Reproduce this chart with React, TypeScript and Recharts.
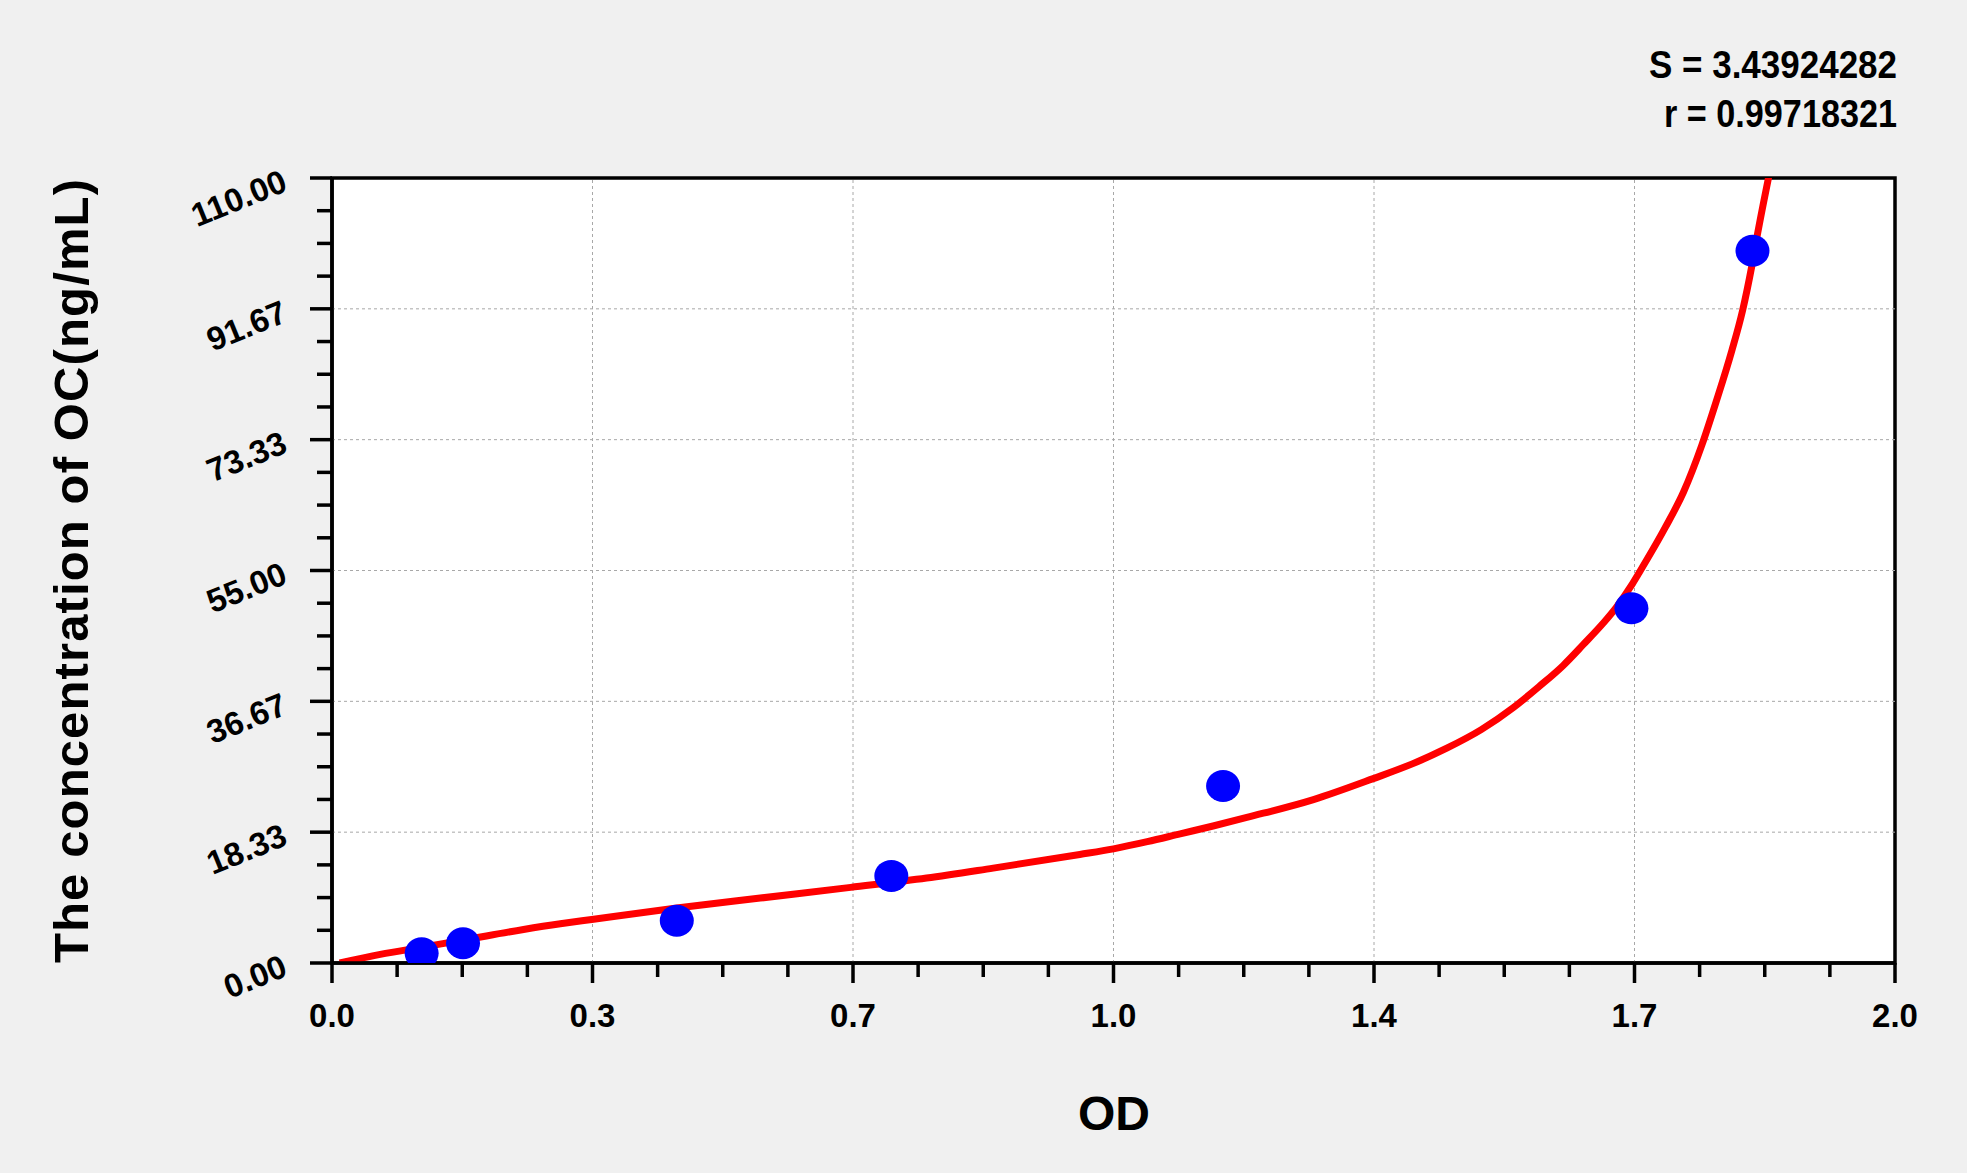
import React from 'react';
import { ComposedChart, Line, Scatter, XAxis, YAxis, ReferenceLine, ReferenceArea } from 'recharts';

// ---- data ----
const CURVE_OD = [0.01, 0.063, 0.117, 0.171, 0.25, 0.298, 0.339, 0.45, 0.559, 0.677, 0.776, 0.863, 0.976, 1.02, 1.064, 1.107, 1.15, 1.194, 1.281, 1.358, 1.41, 1.455, 1.5, 1.542, 1.575, 1.607, 1.633, 1.659, 1.676, 1.696, 1.705, 1.74, 1.764, 1.788, 1.807, 1.827, 1.841, 1.853, 1.861, 1.876];
const CURVE_CONC = [0, 1.2, 2.2, 3.2, 4.7, 5.5, 6.1, 7.7, 9.1, 10.6, 11.9, 13.3, 15.2, 16.0, 17.0, 18.1, 19.2, 20.4, 22.9, 25.8, 27.9, 30.1, 32.7, 35.8, 38.7, 41.7, 44.6, 47.6, 49.8, 52.9, 54.5, 61.0, 66.0, 72.6, 78.8, 85.8, 91.4, 97.6, 102.4, 110.6];
const POINT_OD = [0.117, 0.171, 0.45, 0.73, 1.163, 1.696, 1.854];
const POINT_CONC = [1.36, 2.76, 5.93, 12.2, 24.8, 49.7, 99.8];

const X_MAJOR_TICKS = [0, 0.34, 0.68, 1.02, 1.36, 1.7, 2.04];
const X_TICK_LABELS = ['0.0', '0.3', '0.7', '1.0', '1.4', '1.7', '2.0'];
const Y_MAJOR_TICKS = [0, 18.3333, 36.6667, 55, 73.3333, 91.6667, 110];
const Y_TICK_LABELS = ['0.00', '18.33', '36.67', '55.00', '73.33', '91.67', '110.00'];
const STATS = ['S = 3.43924282', 'r = 0.99718321'];
const X_TITLE = 'OD';
const Y_TITLE = 'The concentration of OC(ng/mL)';

const curveData = CURVE_OD.map((od, i) => ({ od, conc: CURVE_CONC[i] }));
const pointData = POINT_OD.map((od, i) => ({ od, conc: POINT_CONC[i] }));

function withMinor(major: number[], parts: number) {
  const out: number[] = [];
  for (let i = 0; i < major.length - 1; i++) {
    for (let k = 0; k < parts; k++) out.push(major[i] + ((major[i + 1] - major[i]) * k) / parts);
  }
  out.push(major[major.length - 1]);
  return out;
}
const X_TICKS = withMinor(X_MAJOR_TICKS, 4);
const Y_TICKS = withMinor(Y_MAJOR_TICKS, 4);

// ---- layout ----
const W = 1967;
const H = 1173;
const PLOT_LEFT = 332;
const PLOT_TOP = 178;
const PLOT_RIGHT = 1895;
const PLOT_BOTTOM = 963;
const YAXIS_W = 100;
const XAXIS_H = 60;
const FONT = 'Arial, "Liberation Sans", Helvetica, sans-serif';
const AXIS_W = 3.5;

function majorIndex(v: number, majors: number[]) {
  return majors.findIndex((m) => Math.abs(m - v) < 1e-3);
}

const XTick = (props: any) => {
  const { x, payload } = props;
  const mi = majorIndex(payload.value, X_MAJOR_TICKS);
  const major = mi >= 0;
  return (
    <g>
      <line x1={x} x2={x} y1={PLOT_BOTTOM} y2={PLOT_BOTTOM + (major ? 20 : 14)} stroke="#000" strokeWidth={AXIS_W} />
      {major && (
        <text x={x} y={1027} textAnchor="middle" fontFamily={FONT} fontWeight="bold" fontSize={33} fill="#000">
          {X_TICK_LABELS[mi]}
        </text>
      )}
    </g>
  );
};

const YTick = (props: any) => {
  const { y, payload } = props;
  const mi = majorIndex(payload.value, Y_MAJOR_TICKS);
  const major = mi >= 0;
  const ax = 289;
  const ay = y + 12;
  return (
    <g>
      <line x1={PLOT_LEFT - (major ? 22 : 15)} x2={PLOT_LEFT} y1={y} y2={y} stroke="#000" strokeWidth={AXIS_W} />
      {major && (
        <text
          x={ax}
          y={ay}
          textAnchor="end"
          transform={`rotate(-22, ${ax}, ${ay})`}
          fontFamily={FONT}
          fontWeight="bold"
          fontSize={33}
          fill="#000"
        >
          {Y_TICK_LABELS[mi]}
        </text>
      )}
    </g>
  );
};

const Dot = (props: any) => {
  const { cx, cy } = props;
  if (cx == null || cy == null) return null;
  return <ellipse cx={cx} cy={cy} rx={17} ry={16} fill="#0000ff" />;
};

export default function App() {
  return (
    <div style={{ position: 'absolute', left: 0, top: 0, width: W, height: H, background: '#f0f0f0', overflow: 'hidden' }}>
      <ComposedChart
        width={W}
        height={H}
        margin={{ top: PLOT_TOP, right: W - PLOT_RIGHT, bottom: H - PLOT_BOTTOM - XAXIS_H, left: PLOT_LEFT - YAXIS_W }}
      >
        <XAxis
          type="number"
          dataKey="od"
          domain={[0, 2.04]}
          allowDataOverflow
          ticks={X_TICKS}
          interval={0}
          height={XAXIS_H}
          tickLine={false}
          tick={<XTick />}
          axisLine={{ stroke: '#000', strokeWidth: AXIS_W }}
        />
        <YAxis
          type="number"
          dataKey="conc"
          domain={[0, 110]}
          allowDataOverflow
          ticks={Y_TICKS}
          interval={0}
          width={YAXIS_W}
          tickLine={false}
          tick={<YTick />}
          axisLine={{ stroke: '#000', strokeWidth: AXIS_W }}
        />
        <ReferenceArea x1={0} x2={2.04} y1={0} y2={110} fill="#ffffff" fillOpacity={1} stroke="#000" strokeWidth={AXIS_W} />
        {X_MAJOR_TICKS.slice(1, -1).map((v) => (
          <ReferenceLine key={'vx' + v} x={v} stroke="#a8a8a8" strokeWidth={1} strokeDasharray="3 3" />
        ))}
        {Y_MAJOR_TICKS.slice(1, -1).map((v) => (
          <ReferenceLine key={'hy' + v} y={v} stroke="#a8a8a8" strokeWidth={1} strokeDasharray="3 3" />
        ))}
        <Scatter data={pointData} dataKey="conc" shape={<Dot />} isAnimationActive={false} />
        <Line
          data={curveData}
          dataKey="conc"
          type="monotone"
          stroke="#ff0000"
          strokeWidth={7}
          dot={false}
          activeDot={false}
          isAnimationActive={false}
        />
      </ComposedChart>
      <svg width={W} height={H} style={{ position: 'absolute', left: 0, top: 0, pointerEvents: 'none' }}>
        <text x={1897} y={78} textAnchor="end" fontFamily={FONT} fontWeight="bold" fontSize={38} textLength={248} lengthAdjust="spacingAndGlyphs" fill="#000">
          {STATS[0]}
        </text>
        <text x={1897} y={127} textAnchor="end" fontFamily={FONT} fontWeight="bold" fontSize={38} textLength={233} lengthAdjust="spacingAndGlyphs" fill="#000">
          {STATS[1]}
        </text>
        <text x={1114} y={1130} textAnchor="middle" fontFamily={FONT} fontWeight="bold" fontSize={48} fill="#000">
          {X_TITLE}
        </text>
        <text
          x={88}
          y={571}
          textAnchor="middle"
          transform="rotate(-90, 88, 571)"
          fontFamily={FONT}
          fontWeight="bold"
          fontSize={49}
          textLength={784}
          lengthAdjust="spacing"
          fill="#000"
        >
          {Y_TITLE}
        </text>
      </svg>
    </div>
  );
}
